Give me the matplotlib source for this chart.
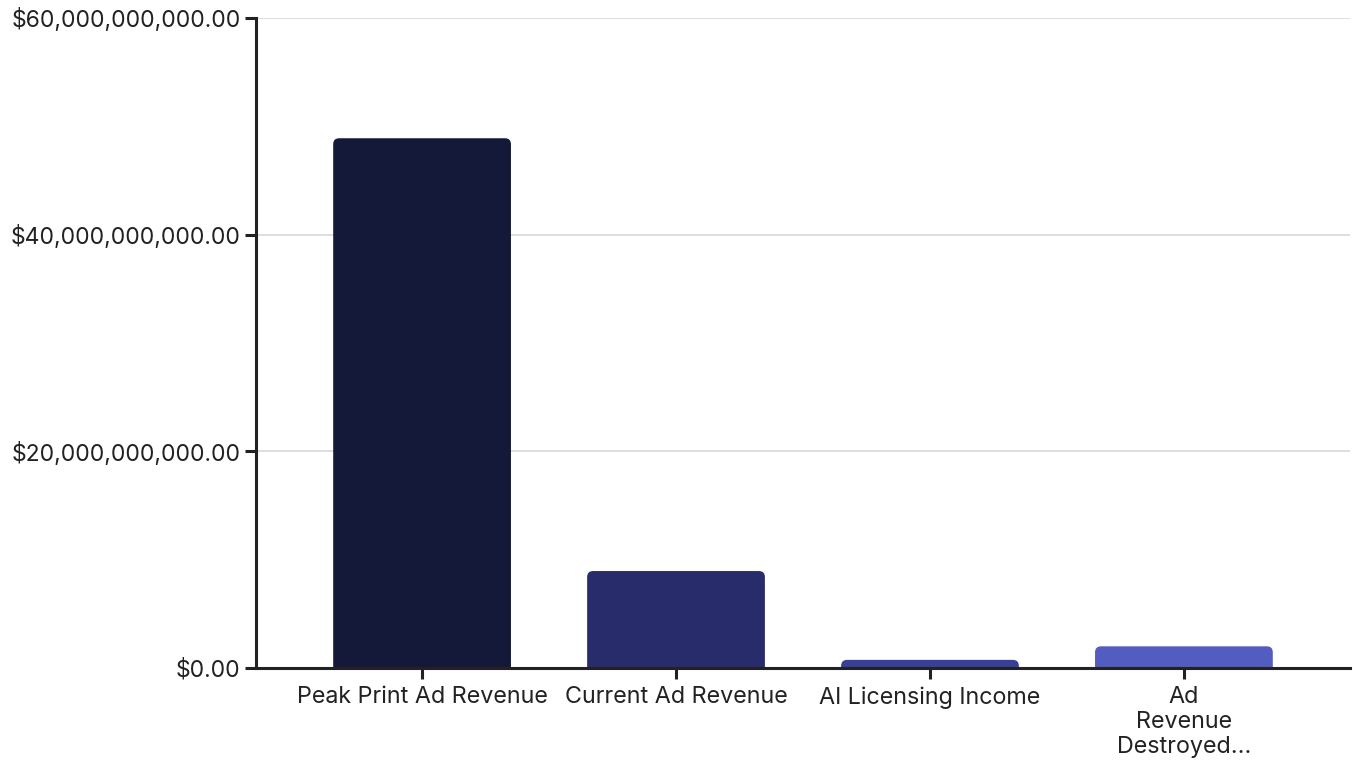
import matplotlib
matplotlib.use("Agg")
import matplotlib.pyplot as plt
from matplotlib.path import Path
from matplotlib.patches import PathPatch
from matplotlib.ticker import FuncFormatter

plt.rcParams['font.family'] = ['Inter', 'DejaVu Sans']

categories = ["Peak Print Ad Revenue", "Current Ad Revenue", "AI Licensing Income", "Ad\nRevenue\nDestroyed..."]
values = [48.9e9, 8.95e9, 0.75e9, 2.0e9]
colors = ["#151939", "#282c6b", "#373f99", "#535cbf"]
y_ticks = [0, 20e9, 40e9, 60e9]

fig = plt.figure(figsize=(13.53, 7.60), dpi=100)
ax = fig.add_axes([256 / 1353, 92 / 760, (1350 - 256) / 1353, 650 / 760])

x = list(range(len(categories)))
bars = ax.bar(x, values, width=0.7, color=colors, zorder=2)
ax.set_xlim(-0.654, 3.654)
ax.set_ylim(0, 60e9)

# swap the plain rectangles for ones with rounded top corners
radius_px = 6
px_x = ax.transData.transform((1, 0))[0] - ax.transData.transform((0, 0))[0]
px_y = ax.transData.transform((0, 1e9))[1] - ax.transData.transform((0, 0))[1]
for b, c in zip(bars, colors):
    x0, w, h = b.get_x(), b.get_width(), b.get_height()
    rx = radius_px / px_x
    ry = min(radius_px / px_y * 1e9, h)
    verts = [(x0, 0), (x0, h - ry), (x0, h), (x0 + rx, h), (x0 + w - rx, h),
             (x0 + w, h), (x0 + w, h - ry), (x0 + w, 0), (x0, 0)]
    codes = [Path.MOVETO, Path.LINETO, Path.CURVE3, Path.CURVE3, Path.LINETO,
             Path.CURVE3, Path.CURVE3, Path.LINETO, Path.CLOSEPOLY]
    b.set_visible(False)
    ax.add_patch(PathPatch(Path(verts, codes), facecolor=c, edgecolor="none", zorder=2))

ax.set_xticks(x)
ax.set_xticklabels(categories, fontsize=16.8, color="#222222", linespacing=1.18)
ax.set_yticks(y_ticks)
ax.yaxis.set_major_formatter(FuncFormatter(lambda v, p: "${:,.2f}".format(v)))
ax.tick_params(axis="y", labelsize=16.5, labelcolor="#222222", length=8, width=2.2, color="#222222", pad=3)
ax.tick_params(axis="x", length=8, width=2.2, color="#222222", pad=5)

for t in y_ticks[1:]:
    ax.axhline(t, color="#d8d8d8", linewidth=1.2, zorder=1)

for s in ["top", "right"]:
    ax.spines[s].set_visible(False)
for s in ["left", "bottom"]:
    ax.spines[s].set_linewidth(2.2)
    ax.spines[s].set_color("#222222")
    ax.spines[s].set_zorder(3)

fig.savefig("out.png", dpi=100)
